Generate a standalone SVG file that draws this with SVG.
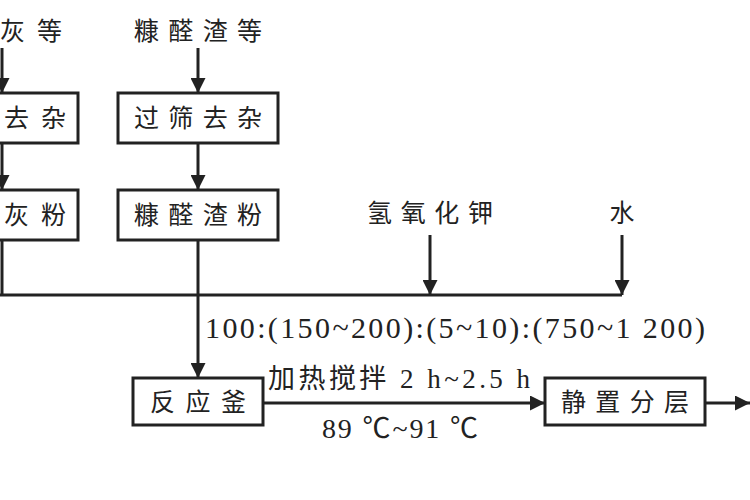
<svg xmlns="http://www.w3.org/2000/svg" width="750" height="500" viewBox="0 0 750 500">
<defs>
<style>
text{font-family:"Liberation Serif","Noto Sans CJK SC",serif;font-size:25px;fill:#222}
.box{fill:#fff;stroke:#222;stroke-width:3}
.ln{stroke:#222;stroke-width:3;fill:none}
</style>
<marker id="a" viewBox="0 0 10 10" refX="10" refY="5" markerWidth="5" markerHeight="5" orient="auto" markerUnits="strokeWidth"><path d="M0,0L10,5L0,10z" fill="#222"/></marker>
</defs>
<rect width="750" height="500" fill="#fff"/>
<g id="connectors">
<path class="ln" d="M2,48V93" marker-end="url(#a)"/>
<path class="ln" d="M2,143V190" marker-end="url(#a)"/>
<path class="ln" d="M2,240V295"/>
<path class="ln" d="M198,48V93" marker-end="url(#a)"/>
<path class="ln" d="M198,143V190" marker-end="url(#a)"/>
<path class="ln" d="M198,240V295"/>
<path class="ln" d="M0,295H622"/>
<path class="ln" d="M430,235V295" marker-end="url(#a)"/>
<path class="ln" d="M622,235V295" marker-end="url(#a)"/>
<path class="ln" d="M198,295V378" marker-end="url(#a)"/>
<path class="ln" d="M263,403H545" marker-end="url(#a)"/>
<path class="ln" d="M705,403H750" marker-end="url(#a)"/>
</g>
<g id="src1"><text x="0" y="40" textLength="62">灰等</text></g>
<g id="src2"><text x="134" y="40" textLength="128">糠醛渣等</text></g>
<g id="n1"><rect class="box" x="-20" y="93" width="98" height="50"/><text x="4" y="127" textLength="62">去杂</text></g>
<g id="n2"><rect class="box" x="-20" y="190" width="98" height="50"/><text x="4" y="224" textLength="62">灰粉</text></g>
<g id="n3"><rect class="box" x="118" y="93" width="160" height="50"/><text x="134" y="127" textLength="128">过筛去杂</text></g>
<g id="n4"><rect class="box" x="118" y="190" width="160" height="50"/><text x="134" y="224" textLength="128">糠醛渣粉</text></g>
<g id="koh"><text x="367" y="222" textLength="126">氢氧化钾</text></g>
<g id="water"><text x="622" y="222" text-anchor="middle">水</text></g>
<text x="205" y="338" style="font-size:30px" textLength="500">100:(150~200):(5~10):(750~1 200)</text>
<g id="n5"><rect class="box" x="133" y="378" width="130" height="47"/><text x="150" y="411" textLength="96">反应釜</text></g>
<text x="268" y="388" style="font-size:27px" textLength="262">加热搅拌 2 h~2.5 h</text>
<text x="322" y="438" style="font-size:28px" textLength="156">89 ℃~91 ℃</text>
<g id="n6"><rect class="box" x="545" y="378" width="160" height="47"/><text x="561" y="411" textLength="128">静置分层</text></g>
</svg>
